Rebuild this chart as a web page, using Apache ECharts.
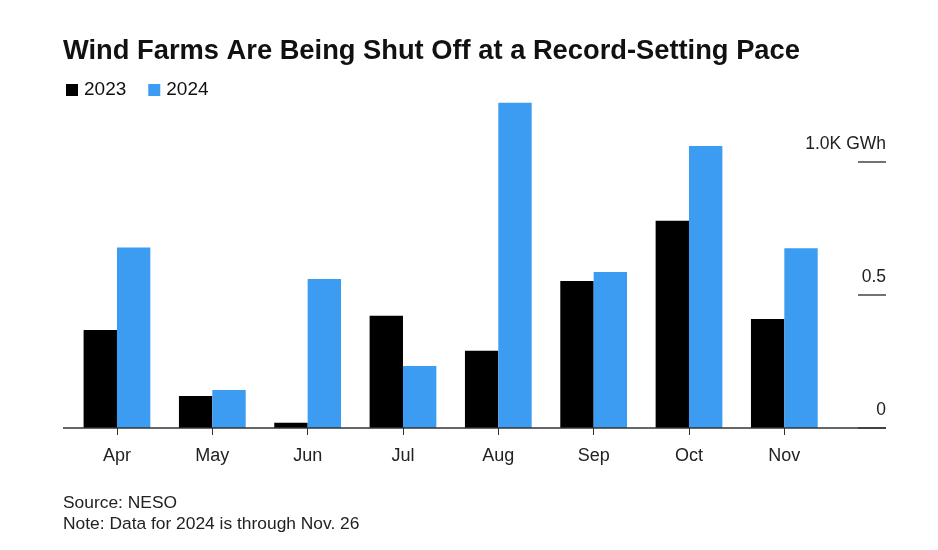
<!DOCTYPE html>
<html>
<head>
<meta charset="utf-8">
<script src="https://cdn.jsdelivr.net/npm/echarts@6/dist/echarts.min.js"></script>
<style>html,body{margin:0;padding:0;background:#fff}#c{width:938px;height:550px}</style>
</head>
<body>
<div id="c"></div>
<script>
const categories = ['Apr','May','Jun','Jul','Aug','Sep','Oct','Nov'];
const values2023 = [0.368, 0.12, 0.02, 0.422, 0.29, 0.553, 0.779, 0.41];
const values2024 = [0.679, 0.143, 0.56, 0.233, 1.223, 0.586, 1.06, 0.676];
const yTicks = [0, 0.5, 1.0];
const yTickLabels = ['0', '0.5', '1.0K GWh'];

const FONT = 'Liberation Sans, Arial, sans-serif';
const chart = echarts.init(document.getElementById('c'), null, {renderer: 'canvas'});
const option = {
  backgroundColor: '#fff',
  animation: false,
  title: [
    {text: 'Wind Farms Are Being Shut Off at a Record-Setting Pace', left: 58, top: 33,
     textStyle: {fontFamily: FONT, fontWeight: 'bold', fontSize: 27.3, color: '#111'}},
    {text: 'Source: NESO', left: 58, top: 490,
     textStyle: {fontFamily: FONT, fontWeight: 'normal', fontSize: 17.4, color: '#222'}},
    {text: 'Note: Data for 2024 is through Nov. 26', left: 58, top: 511,
     textStyle: {fontFamily: FONT, fontWeight: 'normal', fontSize: 17.4, color: '#222'}}
  ],
  legend: {
    left: 61, top: 75.5, icon: 'rect', itemWidth: 12, itemHeight: 12, itemGap: 22,
    textStyle: {fontFamily: FONT, fontSize: 19, color: '#111', padding: [0,0,0,1]},
    data: ['2023', '2024']
  },
  grid: {left: 69.3, right: 106, top: 95.5, bottom: 122, containLabel: false},
  xAxis: {
    type: 'category', data: categories,
    axisLine: {show: false},
    axisTick: {show: true, alignWithLabel: true, length: 7, lineStyle: {color: '#333', width: 1}},
    axisLabel: {fontFamily: FONT, fontSize: 18, color: '#222', margin: 19}
  },
  yAxis: {
    type: 'value', position: 'right', offset: 54, min: 0, max: 1.25,
    splitLine: {show: false},
    axisLine: {show: false},
    axisTick: {show: true, inside: true, length: 28, customValues: yTicks, lineStyle: {color: '#444', width: 1.5}},
    axisLabel: {
      inside: true, margin: 0, customValues: yTicks, verticalAlign: 'bottom', align: 'right',
      fontFamily: FONT, fontSize: 17.5, color: '#222', lineHeight: 17, padding: [0,0,9,0],
      formatter: function (v) { const i = yTicks.indexOf(v); return i >= 0 ? yTickLabels[i] : ''; }
    }
  },
  series: [
    {name: '2023', type: 'bar', data: values2023, barWidth: '35%', barGap: '0%', itemStyle: {color: '#000'}},
    {name: '2024', type: 'bar', data: values2024, barWidth: '35%', barGap: '0%', itemStyle: {color: '#3b9cf2'}}
  ]
};
chart.setOption(option);
const y0 = chart.convertToPixel({yAxisIndex: 0}, 0);
chart.setOption({
  graphic: [{type: 'line', z: 100, shape: {x1: 63, y1: y0, x2: 886, y2: y0}, style: {stroke: '#333', lineWidth: 1.5}}]
});
</script>
</body>
</html>
